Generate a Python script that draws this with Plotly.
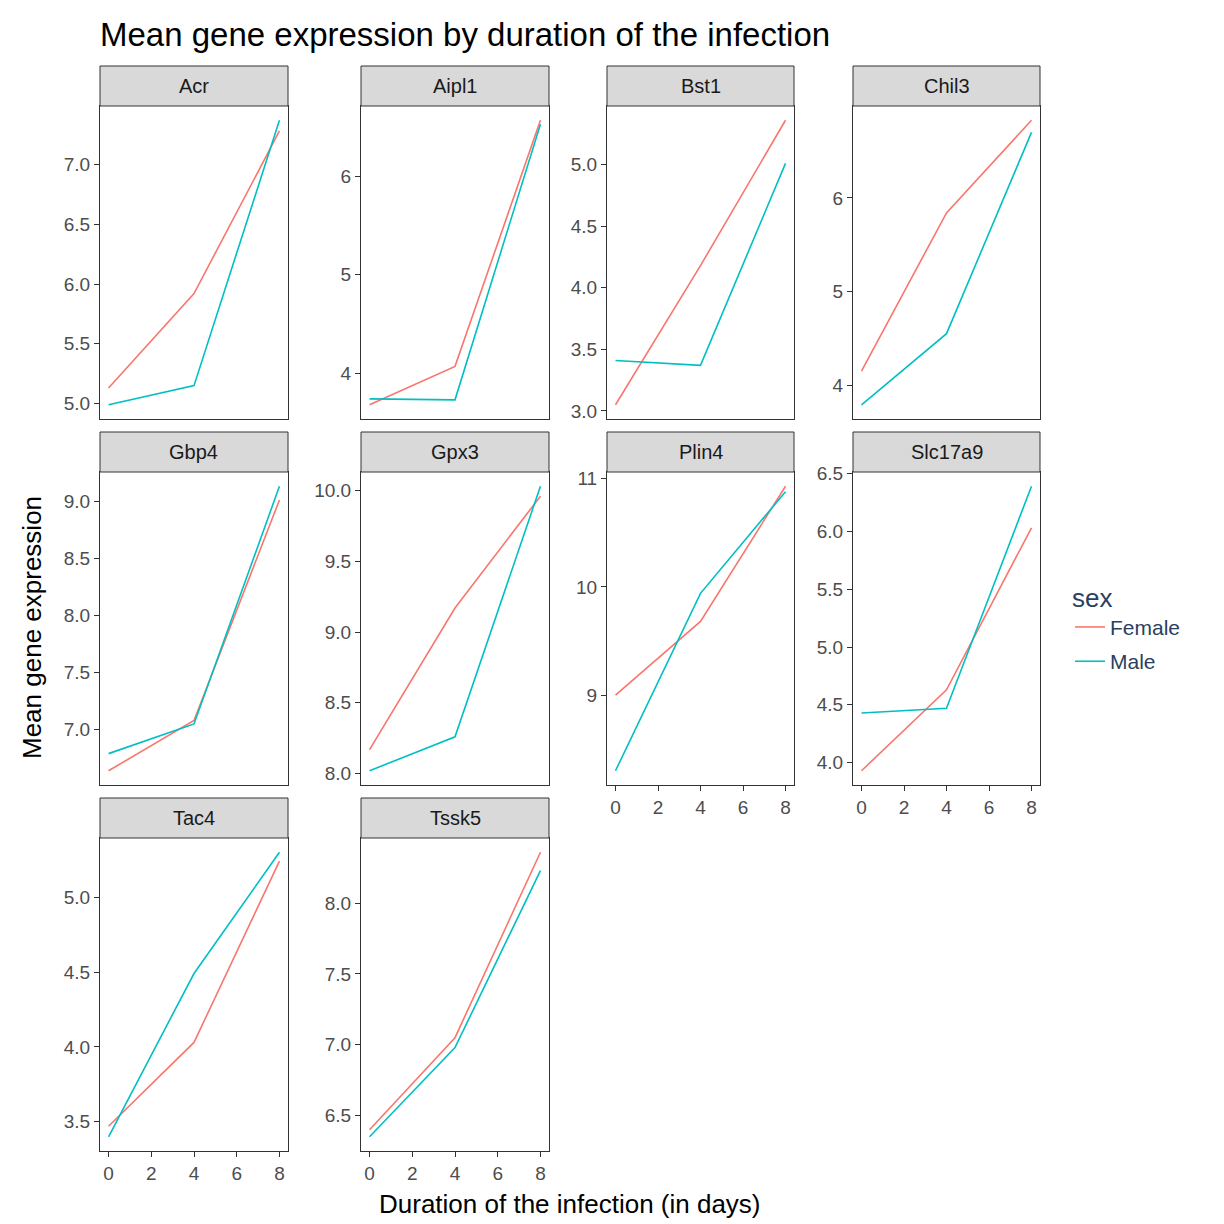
import plotly.graph_objects as go

days = [0, 4, 8]
genes = ["Acr", "Aipl1", "Bst1", "Chil3", "Gbp4", "Gpx3", "Plin4", "Slc17a9", "Tac4", "Tssk5"]
female = {
    "Acr": [5.13, 5.92, 7.28], "Aipl1": [3.68, 4.07, 6.57], "Bst1": [3.05, 4.18, 5.36],
    "Chil3": [4.15, 5.84, 6.83], "Gbp4": [6.64, 7.08, 9.01], "Gpx3": [8.17, 9.17, 9.96],
    "Plin4": [9.00, 9.68, 10.93], "Slc17a9": [3.93, 4.63, 6.03], "Tac4": [3.47, 4.03, 5.24],
    "Tssk5": [6.40, 7.05, 8.36],
}
male = {
    "Acr": [4.99, 5.15, 7.37], "Aipl1": [3.74, 3.73, 6.53], "Bst1": [3.41, 3.37, 5.01],
    "Chil3": [3.79, 4.55, 6.70], "Gbp4": [6.79, 7.05, 9.13], "Gpx3": [8.02, 8.26, 10.03],
    "Plin4": [8.30, 9.94, 10.88], "Slc17a9": [4.43, 4.47, 6.39], "Tac4": [3.40, 4.49, 5.30],
    "Tssk5": [6.35, 6.98, 8.23],
}
yticks = {
    "Acr": [5.0, 5.5, 6.0, 6.5, 7.0], "Aipl1": [4, 5, 6], "Bst1": [3.0, 3.5, 4.0, 4.5, 5.0],
    "Chil3": [4, 5, 6], "Gbp4": [7.0, 7.5, 8.0, 8.5, 9.0], "Gpx3": [8.0, 8.5, 9.0, 9.5, 10.0],
    "Plin4": [9, 10, 11], "Slc17a9": [4.0, 4.5, 5.0, 5.5, 6.0, 6.5], "Tac4": [3.5, 4.0, 4.5, 5.0],
    "Tssk5": [6.5, 7.0, 7.5, 8.0],
}
RED, TEAL = "#F8766D", "#00BFC4"
W = 1224.0
cols_px = [(92, 280), (353, 541), (599, 786), (845, 1032)]
rows_px = [(58, 98, 411), (424, 464, 777), (790, 830, 1143)]
bottom = {0: 2, 1: 2, 2: 1, 3: 1}

fig = go.Figure()
shapes, annotations = [], []
layout = {}
for i, g in enumerate(genes):
    r, c = divmod(i, 4)
    n = "" if i == 0 else str(i + 1)
    x0, x1 = cols_px[c]
    st, p0, p1 = rows_px[r]
    vals = female[g] + male[g]
    lo, hi = min(vals), max(vals)
    pad = (hi - lo) * 0.05
    show_x = bottom[c] == r
    layout["xaxis" + n] = dict(
        domain=[x0 / W, x1 / W], anchor="y" + n, range=[-0.4, 8.4], automargin=False,
        tickvals=[0, 2, 4, 6, 8] if show_x else [], showticklabels=show_x,
        ticks="outside" if show_x else "", ticklen=5, tickcolor="#333333",
        showgrid=False, zeroline=False, showline=True, mirror=True,
        linecolor="#333333", linewidth=1, tickfont=dict(size=19, color="#4d4d4d"))
    layout["yaxis" + n] = dict(
        domain=[1 - p1 / W, 1 - p0 / W], anchor="x" + n, range=[lo - pad, hi + pad],
        automargin=False,
        tickvals=yticks[g], ticktext=[str(v) if isinstance(v, int) else f"{v:.1f}" for v in yticks[g]],
        ticks="outside", ticklen=5, tickcolor="#333333", showgrid=False, zeroline=False,
        showline=True, mirror=True, linecolor="#333333", linewidth=1,
        tickfont=dict(size=19, color="#4d4d4d"))
    fig.add_trace(go.Scatter(x=days, y=female[g], mode="lines", line=dict(color=RED, width=1.6),
                             name="Female", legendgroup="F", showlegend=(i == 0),
                             xaxis="x" + n, yaxis="y" + n))
    fig.add_trace(go.Scatter(x=days, y=male[g], mode="lines", line=dict(color=TEAL, width=1.6),
                             name="Male", legendgroup="M", showlegend=(i == 0),
                             xaxis="x" + n, yaxis="y" + n))
    shapes.append(dict(type="rect", xref="paper", yref="paper", x0=x0 / W, x1=x1 / W,
                       y0=1 - p0 / W, y1=1 - st / W, fillcolor="#d9d9d9",
                       line=dict(color="#333333", width=1)))
    annotations.append(dict(text=g, xref="paper", yref="paper", x=(x0 + x1) / 2 / W,
                            y=1 - (st + p0) / 2 / W, xanchor="center", yanchor="middle",
                            showarrow=False, font=dict(size=20, color="#1a1a1a")))

annotations += [
    dict(text="Duration of the infection (in days)", xref="paper", yref="paper",
         x=562 / W, y=1 - 1196 / W, xanchor="center", yanchor="middle",
         showarrow=False, font=dict(size=26, color="black")),
    dict(text="Mean gene expression", xref="paper", yref="paper", x=24 / W, y=1 - 620 / W,
         xanchor="center", yanchor="middle",
         textangle=-90, showarrow=False, font=dict(size=26, color="black")),
]

fig.update_layout(
    **layout, shapes=shapes, annotations=annotations,
    width=1224, height=1224, margin=dict(l=0, r=0, t=0, b=0, autoexpand=False),
    plot_bgcolor="white", paper_bgcolor="white",
    font=dict(family="Liberation Sans, Arial, sans-serif"),
    title=dict(text="Mean gene expression by duration of the infection", x=92 / W, xanchor="left",
               y=1 - 26 / W, yanchor="middle", font=dict(size=33, color="black")),
    legend=dict(x=1062 / W, y=1 - 565 / W, xanchor="left", yanchor="top",
                title=dict(text="sex", font=dict(size=26)), font=dict(size=21),
                tracegroupgap=4),
)
fig.write_html("out.html")
